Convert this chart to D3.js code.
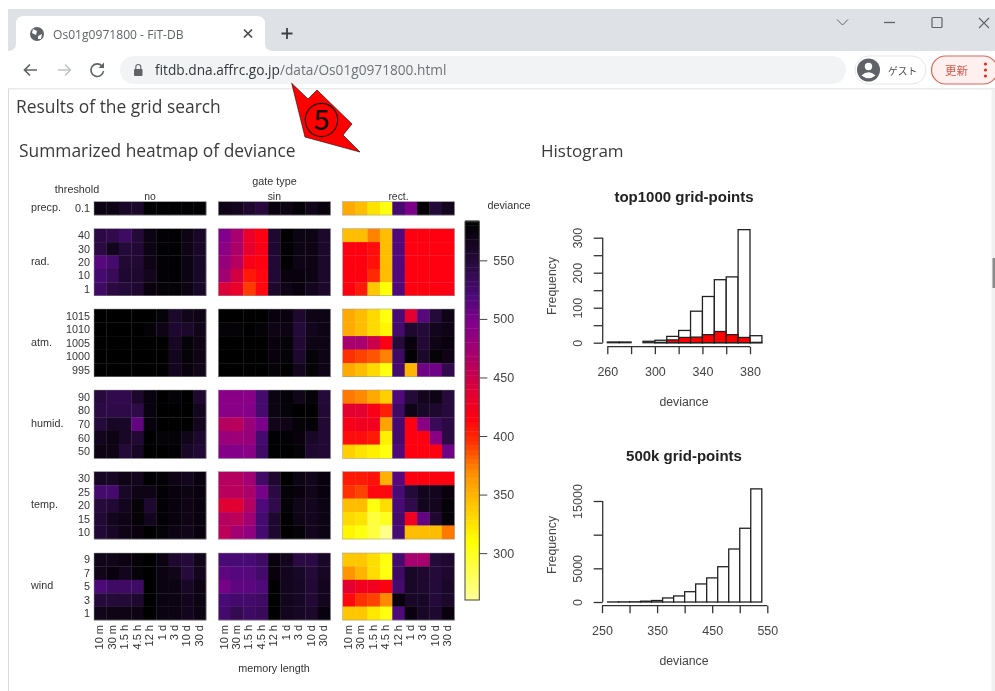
<!DOCTYPE html>
<html>
<head>
<meta charset="utf-8">
<title>Os01g0971800 - FiT-DB</title>
<script src="https://cdn.jsdelivr.net/npm/d3@7"></script>
<style>
html, body { margin: 0; padding: 0; background: #fff; overflow: hidden; }
svg { display: block; filter: blur(0.6px); }
</style>
</head>
<body>
<script>
const svgWidth = 995
const svgHeight = 691

// heatmap labels
const memoryLabels = ["10 m", "30 m", "1.5 h", "4.5 h", "12 h", "1 d", "3 d", "10 d", "30 d"]
const gateTypes = ["no", "sin", "rect."]
const factorNames = ["precp.", "rad.", "atm.", "humid.", "temp.", "wind"]
const thresholdLabels = [
    ["0.1"],
    ["40", "30", "20", "10", "1"],
    ["1015", "1010", "1005", "1000", "995"],
    ["90", "80", "70", "60", "50"],
    ["30", "25", "20", "15", "10"],
    ["9", "7", "5", "3", "1"]
]

// deviance per gate type, one row per threshold, top to bottom
const devianceNo = [
    [572, 570, 560, 558, 582, 582, 582, 582, 582],

    [545, 540, 530, 550, 572, 580, 582, 570, 560],
    [545, 565, 550, 552, 572, 580, 582, 570, 560],
    [515, 525, 553, 553, 570, 580, 582, 572, 560],
    [525, 535, 555, 555, 565, 580, 582, 572, 560],
    [530, 545, 550, 555, 575, 578, 578, 572, 560],

    [583, 583, 583, 583, 583, 578, 558, 568, 570],
    [583, 583, 583, 583, 578, 570, 555, 558, 568],
    [583, 583, 583, 583, 583, 583, 562, 578, 570],
    [583, 583, 583, 583, 583, 583, 565, 578, 570],
    [583, 583, 583, 583, 583, 583, 565, 575, 568],

    [548, 540, 540, 558, 575, 583, 578, 583, 555],
    [545, 542, 542, 542, 575, 583, 583, 583, 565],
    [550, 562, 560, 510, 575, 583, 583, 583, 565],
    [565, 572, 560, 552, 583, 578, 578, 568, 555],
    [572, 570, 550, 562, 583, 583, 580, 560, 552],

    [562, 562, 570, 565, 582, 578, 570, 565, 575],
    [525, 525, 560, 570, 570, 580, 575, 572, 575],
    [548, 552, 565, 578, 555, 580, 575, 570, 575],
    [552, 565, 570, 578, 565, 580, 575, 570, 575],
    [552, 562, 570, 575, 583, 578, 572, 568, 575],

    [568, 568, 573, 578, 583, 573, 555, 550, 568],
    [568, 575, 565, 578, 583, 573, 568, 548, 565],
    [520, 530, 530, 530, 583, 573, 572, 560, 572],
    [548, 550, 550, 555, 583, 573, 572, 566, 572],
    [568, 570, 570, 572, 583, 573, 572, 566, 572]
]

const devianceSin = [
    [570, 565, 555, 548, 575, 572, 580, 568, 575],

    [498, 470, 430, 415, 555, 582, 572, 572, 558],
    [490, 468, 432, 420, 555, 582, 572, 572, 558],
    [482, 462, 420, 415, 552, 582, 570, 572, 558],
    [475, 445, 405, 412, 552, 575, 575, 572, 558],
    [440, 430, 392, 412, 558, 570, 575, 565, 558],

    [583, 583, 583, 583, 575, 575, 555, 570, 570],
    [578, 578, 583, 578, 570, 572, 550, 565, 570],
    [583, 583, 583, 583, 575, 578, 552, 570, 570],
    [583, 583, 583, 583, 575, 578, 555, 578, 570],
    [583, 583, 583, 583, 578, 583, 565, 578, 570],

    [492, 492, 492, 525, 572, 578, 568, 578, 550],
    [492, 492, 495, 525, 572, 578, 583, 583, 553],
    [462, 460, 480, 500, 568, 570, 578, 580, 553],
    [480, 478, 482, 525, 582, 580, 575, 560, 553],
    [495, 495, 492, 528, 582, 583, 578, 555, 553],

    [462, 462, 474, 528, 555, 583, 572, 568, 575],
    [460, 460, 468, 502, 545, 578, 575, 568, 575],
    [436, 436, 462, 518, 540, 578, 568, 565, 572],
    [462, 458, 474, 525, 555, 583, 570, 565, 572],
    [458, 474, 486, 525, 555, 583, 578, 565, 572],

    [522, 522, 522, 530, 575, 565, 545, 545, 560],
    [512, 516, 516, 526, 575, 565, 560, 550, 562],
    [502, 512, 512, 518, 583, 565, 562, 552, 565],
    [522, 526, 526, 530, 583, 565, 562, 552, 565],
    [526, 538, 530, 534, 583, 565, 562, 558, 575]
]

const devianceRect = [
    [355, 345, 325, 305, 525, 500, 580, 550, 565],

    [345, 345, 372, 345, 518, 415, 415, 415, 415],
    [415, 415, 410, 345, 518, 415, 415, 415, 415],
    [415, 415, 408, 345, 518, 415, 415, 415, 415],
    [415, 415, 398, 345, 518, 415, 415, 415, 415],
    [415, 405, 340, 308, 518, 415, 415, 415, 418],

    [355, 345, 330, 305, 522, 435, 515, 550, 570],
    [355, 345, 330, 315, 525, 555, 550, 565, 570],
    [470, 470, 450, 418, 548, 575, 552, 570, 575],
    [395, 390, 385, 372, 530, 580, 558, 578, 570],
    [355, 345, 330, 305, 525, 350, 505, 505, 540],

    [375, 370, 355, 335, 518, 550, 565, 570, 548],
    [435, 435, 420, 402, 530, 570, 560, 555, 548],
    [420, 425, 425, 358, 525, 415, 490, 535, 545],
    [410, 410, 404, 318, 525, 415, 415, 490, 545],
    [335, 325, 318, 305, 518, 415, 415, 415, 505],

    [404, 404, 408, 352, 515, 415, 415, 415, 415],
    [395, 390, 412, 412, 522, 550, 565, 565, 575],
    [345, 345, 305, 328, 522, 540, 565, 565, 578],
    [330, 325, 290, 300, 525, 425, 510, 555, 578],
    [315, 305, 290, 265, 522, 345, 345, 345, 375],

    [340, 340, 328, 305, 525, 470, 470, 550, 555],
    [365, 350, 328, 305, 530, 560, 555, 550, 555],
    [435, 425, 425, 415, 525, 560, 555, 550, 560],
    [412, 395, 390, 370, 575, 560, 560, 550, 558],
    [340, 340, 322, 305, 518, 575, 560, 555, 575]
]

const legendTicks = [550, 500, 450, 400, 350, 300]

// top1000 histogram
const topBins = [260, 270, 280, 290, 300, 310, 320, 330, 340, 350, 360, 370, 380]
const topCounts = [2, 2, 0, 4, 7, 18, 35, 90, 132, 180, 188, 323, 20]
const topRedCounts = [0, 0, 0, 0, 1, 8, 15, 16, 23, 32, 23, 15, 1]

// 500k histogram
const allBins = [260, 280, 300, 320, 340, 360, 380, 400, 420, 440, 460, 480, 500, 520]
const allCounts = [10, 20, 30, 120, 220, 600, 900, 1530, 2680, 3580, 5240, 7870, 10950, 16800]

const svg = d3.select("body").append("svg")
    .attr("width", svgWidth)
    .attr("height", svgHeight)
    .attr("font-family", "'Liberation Sans', Arial, sans-serif")

svg.append("rect").attr("width", svgWidth).attr("height", svgHeight).attr("fill", "#ffffff")

drawBrowser()

// page headings
const heading = "'Open Sans', 'Noto Sans', sans-serif"
svg.append("text").attr("x", 16).attr("y", 112.5).attr("font-family", heading)
    .attr("font-size", 17.4).attr("fill", "#3a3a3a").text("Results of the grid search")
svg.append("text").attr("x", 19).attr("y", 156.5).attr("font-family", heading)
    .attr("font-size", 17.4).attr("fill", "#3a3a3a").text("Summarized heatmap of deviance")
svg.append("text").attr("x", 541).attr("y", 156.5).attr("font-family", heading)
    .attr("font-size", 17).attr("fill", "#3a3a3a").text("Histogram")

// colour scale, stops
const colorScale = d3.scaleLinear()
    .domain([583, 550, 520, 498, 470, 440, 415, 395, 370, 350, 310, 260])
    .range(["#000000", "#240a38", "#4b0a78", "#80008c", "#a8006e", "#dc0038", "#ff0010", "#ff3000", "#ff8a00", "#ffb400", "#ffff00", "#ffff99"])
    .clamp(true)

// heatmap panels
const panelX = [[94, 206], [218.3, 330.3], [342.7, 454.3]]
const rowY = [[201.7, 215], [228.7, 295.7], [309, 376.7], [390, 458.3], [471.7, 539], [553, 620]]
const panelData = [devianceNo, devianceSin, devianceRect]

gateTypes.forEach((gate, g) => {
    const x = d3.scaleBand().domain(memoryLabels).range(panelX[g])
    let offset = 0

    rowY.forEach((yr, f) => {
        const labels = thresholdLabels[f]
        const y = d3.scaleBand().domain(labels).range(yr)
        const rows = panelData[g].slice(offset, offset + labels.length)
        offset += labels.length

        const panel = svg.append("g")

        rows.forEach((row, r) => {
            panel.selectAll(null)
                .data(row)
                .enter()
                .append("rect")
                .attr("x", (d, i) => x(memoryLabels[i]))
                .attr("y", y(labels[r]))
                .attr("width", x.bandwidth() + 0.3)
                .attr("height", y.bandwidth() + 0.3)
                .attr("fill", d => colorScale(d))
        })

        panel.append("rect")
            .attr("x", panelX[g][0])
            .attr("y", yr[0])
            .attr("width", panelX[g][1] - panelX[g][0])
            .attr("height", yr[1] - yr[0])
            .attr("fill", "none")
            .attr("stroke", "#999999")
            .attr("stroke-width", 0.5)

        // threshold labels only left of the first panel
        if (g == 0) {
            svg.selectAll(null)
                .data(labels)
                .enter()
                .append("text")
                .attr("x", 90)
                .attr("y", d => y(d) + y.bandwidth() / 2)
                .attr("dy", "0.35em")
                .attr("text-anchor", "end")
                .attr("font-size", 10.8)
                .attr("fill", "#333333")
                .text(d => d)

            svg.append("text")
                .attr("x", 31)
                .attr("y", (yr[0] + yr[1]) / 2 - 1)
                .attr("dy", "0.35em")
                .attr("font-size", 10.8)
                .attr("fill", "#333333")
                .text(factorNames[f])
        }
    })

    svg.append("text")
        .attr("x", (panelX[g][0] + panelX[g][1]) / 2)
        .attr("y", 199.5)
        .attr("text-anchor", "middle")
        .attr("font-size", 10.4)
        .attr("fill", "#333333")
        .text(gate)

    svg.selectAll(null)
        .data(memoryLabels)
        .enter()
        .append("text")
        .attr("transform", d => `translate(${x(d) + x.bandwidth() / 2 - 0.8}, 625) rotate(-90)`)
        .attr("dy", "0.35em")
        .attr("text-anchor", "end")
        .attr("font-size", 11)
        .attr("fill", "#333333")
        .text(d => d)
})

const smallLabels = [
    ["threshold", 77, 192.5],
    ["gate type", 274.5, 184.5],
    ["memory length", 274, 671.5],
    ["deviance", 509, 208.5]
]
svg.selectAll(null)
    .data(smallLabels)
    .enter()
    .append("text")
    .attr("x", d => d[1])
    .attr("y", d => d[2])
    .attr("text-anchor", "middle")
    .attr("font-size", 10.8)
    .attr("fill", "#333333")
    .text(d => d[0])

// colour bar
const legendY = d3.scaleLinear().domain([260, 583]).range([600, 221.7])
const legendSteps = d3.range(260, 583, 4)
svg.append("g")
    .selectAll("rect")
    .data(legendSteps)
    .enter()
    .append("rect")
    .attr("x", 465)
    .attr("y", d => legendY(d + 4))
    .attr("width", 14.3)
    .attr("height", d => legendY(d) - legendY(d + 4) + 0.4)
    .attr("fill", d => colorScale(d + 2))

svg.append("rect")
    .attr("x", 465).attr("y", 221.7).attr("width", 14.3).attr("height", 378.3)
    .attr("fill", "none").attr("stroke", "#444444").attr("stroke-width", 1)

const legendAxis = svg.append("g")
    .attr("transform", "translate(479.3, 0)")
    .attr("font-family", "'Liberation Sans', Arial, sans-serif")
    .call(d3.axisRight(legendY).tickValues(legendTicks).tickSize(8).tickPadding(6))
legendAxis.select(".domain").remove()
legendAxis.selectAll("line").attr("stroke", "#444444").attr("stroke-width", 1)
legendAxis.selectAll("text").attr("font-size", 12.5).attr("fill", "#444444")

// histograms
drawHist({
    title: "top1000 grid-points",
    bins: topBins, counts: topCounts, red: topRedCounts, binWidth: 10,
    xDomain: [260, 380], xRange: [607.3, 750], xTicks: d3.range(260, 381, 20), xLabels: [260, 300, 340, 380],
    yDomain: [0, 300], yRange: [342.7, 237.7], yTicks: d3.range(0, 301, 50), yLabels: [0, 100, 200, 300],
    axisY: 346.7, titleY: 201.5, tickLabelY: 376, nameY: 406, freqY: 286
})

drawHist({
    title: "500k grid-points",
    bins: allBins, counts: allCounts, red: null, binWidth: 20,
    xDomain: [250, 550], xRange: [602, 767.3], xTicks: d3.range(250, 551, 50), xLabels: [250, 350, 450, 550],
    yDomain: [0, 15000], yRange: [602, 501], yTicks: [0, 5000, 10000, 15000], yLabels: [0, 5000, 15000],
    axisY: 605.7, titleY: 461, tickLabelY: 635, nameY: 665, freqY: 545
})

function drawHist(o) {
    const x = d3.scaleLinear().domain(o.xDomain).range(o.xRange)
    const y = d3.scaleLinear().domain(o.yDomain).range(o.yRange)
    const axisX = 602.7

    const g = svg.append("g")

    g.selectAll(null)
        .data(o.counts)
        .enter()
        .append("rect")
        .attr("x", (d, i) => x(o.bins[i]))
        .attr("y", d => y(d))
        .attr("width", (d, i) => x(o.bins[i] + o.binWidth) - x(o.bins[i]))
        .attr("height", d => y(0) - y(d))
        .attr("fill", "#ffffff")
        .attr("stroke", "#222222")
        .attr("stroke-width", 1.3)

    if (o.red) {
        g.selectAll(null)
            .data(o.red)
            .enter()
            .append("rect")
            .attr("x", (d, i) => x(o.bins[i]))
            .attr("y", d => y(d))
            .attr("width", (d, i) => x(o.bins[i] + o.binWidth) - x(o.bins[i]))
            .attr("height", d => y(0) - y(d))
            .attr("fill", "#ff0000")
            .attr("stroke", "#222222")
            .attr("stroke-width", 1.3)
    }

    const xAxis = g.append("g")
        .attr("transform", `translate(0, ${o.axisY})`)
        .call(d3.axisBottom(x).tickValues(o.xTicks).tickSize(7.5).tickSizeOuter(0).tickPadding(8)
            .tickFormat(d => o.xLabels.includes(d) ? d : ""))

    const yAxis = g.append("g")
        .attr("transform", `translate(${axisX}, 0)`)
        .call(d3.axisLeft(y).tickValues(o.yTicks).tickSize(9).tickSizeOuter(0)
            .tickFormat(d => o.yLabels.includes(d) ? d : ""))

    xAxis.select(".domain").attr("d", `M${x(o.xDomain[0])},0H${x(o.xDomain[1])}`)
    yAxis.select(".domain").attr("d", `M0,${y(o.yDomain[0])}V${y(o.yDomain[1])}`)

    xAxis.selectAll("text").attr("y", null).attr("dy", null)
        .attr("transform", `translate(0, ${o.tickLabelY - o.axisY})`)
    yAxis.selectAll("text")
        .attr("x", null).attr("dy", null)
        .attr("text-anchor", "middle")
        .attr("transform", "translate(-21, 0) rotate(-90)")
        .attr("y", 0)

    g.selectAll(".domain, .tick line").attr("stroke", "#333333").attr("stroke-width", 1.3)
    g.selectAll(".tick text")
        .attr("font-family", "'Liberation Sans', Arial, sans-serif")
        .attr("font-size", 12.5)
        .attr("fill", "#444444")

    g.append("text")
        .attr("x", 684).attr("y", o.titleY)
        .attr("text-anchor", "middle").attr("font-size", 15).attr("font-weight", "bold")
        .attr("fill", "#222222").text(o.title)
    g.append("text")
        .attr("x", 684).attr("y", o.nameY)
        .attr("text-anchor", "middle").attr("font-size", 12.3).attr("fill", "#444444").text("deviance")
    g.append("text")
        .attr("transform", `translate(556, ${o.freqY}) rotate(-90)`)
        .attr("text-anchor", "middle").attr("font-size", 12.3).attr("fill", "#444444").text("Frequency")
}

// window frame, tab, toolbar and the red marker
function drawBrowser() {
    const ui = "'Noto Sans CJK JP', 'Noto Sans', sans-serif"
    const grey = "#5f6368"

    svg.append("rect").attr("x", 8).attr("y", 9).attr("width", 987).attr("height", 42).attr("fill", "#dee1e6")
    svg.append("rect").attr("x", 8).attr("y", 51).attr("width", 987).attr("height", 38).attr("fill", "#ffffff")
    svg.append("rect").attr("x", 8).attr("y", 88).attr("width", 987).attr("height", 1.5).attr("fill", "#e9eaec")
    svg.append("rect").attr("x", 8).attr("y", 89).attr("width", 1).attr("height", 602).attr("fill", "#dcdcdc")
    svg.append("rect").attr("x", 991.5).attr("y", 89).attr("width", 3.5).attr("height", 602).attr("fill", "#f1f1f1")
    svg.append("rect").attr("x", 992.5).attr("y", 258).attr("width", 2.5).attr("height", 30).attr("fill", "#8a8a8a")

    // tab
    svg.append("path")
        .attr("d", "M8,51 Q16,51 16,43 V24 Q16,16 24,16 H257 Q265,16 265,24 V43 Q265,51 273,51 Z")
        .attr("fill", "#ffffff")
    svg.append("circle").attr("cx", 37).attr("cy", 34).attr("r", 7).attr("fill", grey)
    svg.append("path").attr("d", "M33,29 L37,31 L36,35 L32,33 Z M38,36 L42,34 L41,39 L38,39 Z").attr("fill", "#ffffff")
    svg.append("text").attr("x", 53).attr("y", 38.5).attr("font-family", "'Open Sans', sans-serif")
        .attr("font-size", 12.1).attr("fill", grey).text("Os01g0971800 - FiT-DB")
    svg.append("path").attr("d", "M244,29.5 L252,37.5 M252,29.5 L244,37.5").attr("stroke", "#45484c").attr("stroke-width", 1.7)
    svg.append("path").attr("d", "M287,28 V39 M281.5,33.5 H292.5").attr("stroke", "#3c4043").attr("stroke-width", 1.8)

    // window controls
    svg.append("path").attr("d", "M837,19.5 L842.5,25 L848,19.5").attr("fill", "none").attr("stroke", grey).attr("stroke-width", 1)
    svg.append("path").attr("d", "M884,22.5 H895").attr("stroke", grey).attr("stroke-width", 1.3)
    svg.append("rect").attr("x", 932).attr("y", 17.5).attr("width", 10).attr("height", 10).attr("rx", 1)
        .attr("fill", "none").attr("stroke", grey).attr("stroke-width", 1.2)
    svg.append("path").attr("d", "M979,18 L989,28 M989,18 L979,28").attr("stroke", grey).attr("stroke-width", 1.1)

    // navigation
    svg.append("path").attr("d", "M37,70 H25 M30,64.5 L24.5,70 L30,75.5").attr("fill", "none").attr("stroke", grey).attr("stroke-width", 1.7)
    svg.append("path").attr("d", "M58,70 H70 M65,64.5 L70.5,70 L65,75.5").attr("fill", "none").attr("stroke", "#bfc2c6").attr("stroke-width", 1.5)
    svg.append("path").attr("d", "M102,66 A6.3,6.3 0 1 0 103.5,71").attr("fill", "none").attr("stroke", grey).attr("stroke-width", 1.6)
    svg.append("path").attr("d", "M104,62.5 V68 H98.5 Z").attr("fill", grey)

    // address bar
    svg.append("rect").attr("x", 120).attr("y", 56).attr("width", 726).attr("height", 28).attr("rx", 14).attr("fill", "#f1f3f4")
    svg.append("rect").attr("x", 134).attr("y", 69).attr("width", 8.5).attr("height", 7).attr("rx", 1).attr("fill", grey)
    svg.append("path").attr("d", "M135.8,69 V67 A2.5,2.5 0 0 1 140.8,67 V69").attr("fill", "none").attr("stroke", grey).attr("stroke-width", 1.1)
    const url = svg.append("text").attr("x", 155).attr("y", 75).attr("font-family", "'Open Sans', sans-serif").attr("font-size", 13.7)
    url.append("tspan").attr("fill", "#33373b").text("fitdb.dna.affrc.go.jp")
    url.append("tspan").attr("fill", "#6f7377").text("/data/Os01g0971800.html")

    // profile button
    svg.append("rect").attr("x", 855).attr("y", 56).attr("width", 71).attr("height", 28).attr("rx", 14)
        .attr("fill", "#ffffff").attr("stroke", "#e6e7e9")
    svg.append("circle").attr("cx", 868.5).attr("cy", 70).attr("r", 11.5).attr("fill", grey)
    svg.append("circle").attr("cx", 868.5).attr("cy", 66.5).attr("r", 3.7).attr("fill", "#ffffff")
    svg.append("path").attr("d", "M861.5,75.5 Q868.5,69 875.5,75.5 Q868.5,81 861.5,75.5 Z").attr("fill", "#ffffff")
    svg.append("text").attr("x", 888).attr("y", 75).attr("font-family", ui).attr("font-size", 9.8).attr("fill", "#4b4e52").text("ゲスト")

    // update button
    svg.append("rect").attr("x", 931.5).attr("y", 56).attr("width", 66).attr("height", 28).attr("rx", 14)
        .attr("fill", "#fdf0ee").attr("stroke", "#d9675c").attr("stroke-width", 1.2)
    svg.append("text").attr("x", 945).attr("y", 75).attr("font-family", ui).attr("font-size", 11.5).attr("fill", "#d9574c").text("更新")
    svg.selectAll(null).data([64, 70, 76]).enter().append("circle")
        .attr("cx", 985.5).attr("cy", d => d).attr("r", 1.6).attr("fill", "#d93025")

    // red marker
    svg.append("path")
        .attr("d", "M291.7,83.3 L308,99 L317,90 L352,124 L343,135 L360,152 L305,137 Z")
        .attr("fill", "#ff0000").attr("stroke", "#331111").attr("stroke-width", 0.7)
    svg.append("text").attr("x", 321.5).attr("y", 134).attr("text-anchor", "middle")
        .attr("font-family", ui).attr("font-size", 36).attr("fill", "#111111").text("⑤")
}
</script>
</body>
</html>
